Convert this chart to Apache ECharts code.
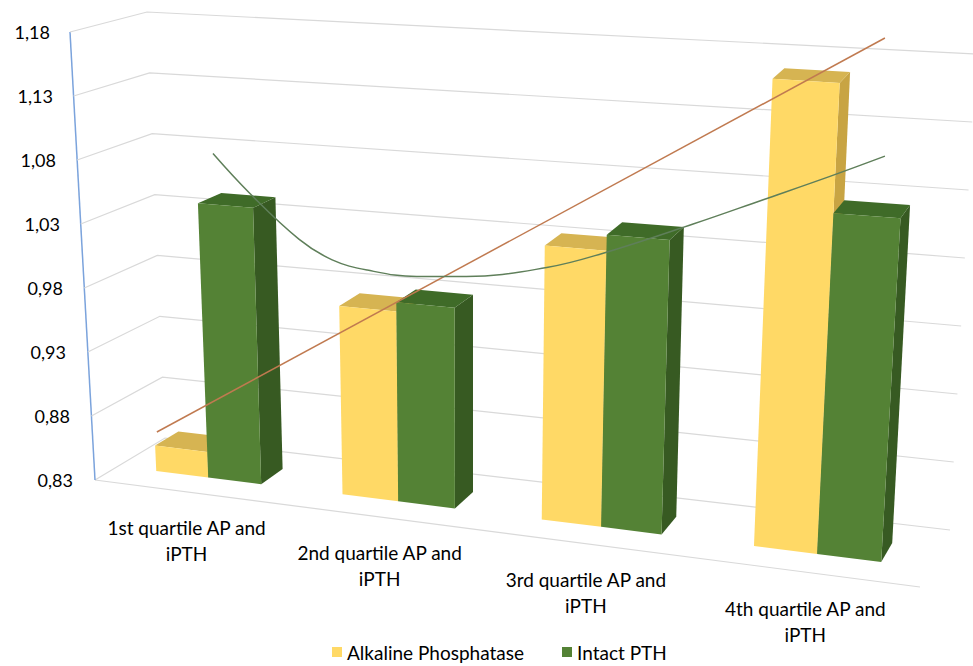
<!DOCTYPE html>
<html><head><meta charset="utf-8">
<script src="https://cdn.jsdelivr.net/npm/echarts@6/dist/echarts.min.js"></script>
<style>html,body{margin:0;padding:0;background:#fff}#chart{width:973px;height:666px}</style>
</head><body><div id="chart"></div>
<script>
// ---------- data ----------
const categories = ['1st quartile AP and\niPTH', '2nd quartile AP and\niPTH', '3rd quartile AP and\niPTH', '4th quartile AP and\niPTH'];
const seriesNames = ['Alkaline Phosphatase', 'Intact PTH'];
const alkalinePhosphatase = [0.85, 0.975, 1.035, 1.17];
const intactPTH = [1.045, 0.982, 1.047, 1.076];
const yTicks = [0.83, 0.88, 0.93, 0.98, 1.03, 1.08, 1.13, 1.18];
// trendlines (x in category-index units)
const apTrendX = [-0.2, 3.33];
const apTrendY = [0.8675, 1.1753];
const pthTrendX = [0.072, 0.25, 0.49, 0.65, 0.82, 1.06, 1.30, 1.69, 1.96, 2.40, 2.74, 3.06, 3.33];
const pthTrendY = [1.085, 1.054, 1.018, 1.002, 0.994, 0.989, 0.989, 0.996, 1.007, 1.030, 1.049, 1.067, 1.083];

// ---------- layout / style ----------
const GRID = { left: 95, top: 32, width: 825, height: 448 };
// screen corners of the 3D box, keyed u(0/1) t(0/1) d(0/1)
const BOX = {
  u0t0d0: [95, 480], u0t1d0: [70, 32], u0t0d1: [165, 438], u0t1d1: [147, 12],
  u1t0d0: [920, 587], u1t1d0: [953, 87], u1t0d1: [950, 530], u1t1d1: [976, 54]
};
const WARP = 0.128;
const DEPTH = [0.33, 0.67];
const BAR_FRAC = 0.286;
const FONT = 'Lato, "Liberation Sans", sans-serif';
const COLORS = [
  { front: '#FFD966', top: '#D6B452', side: '#C8A443' },
  { front: '#548235', top: '#3F6B28', side: '#375A22' }
];

function lerp(a, b, k) { return [a[0] + (b[0] - a[0]) * k, a[1] + (b[1] - a[1]) * k]; }
function proj(u, t, d) {
  const w = (1 - WARP) * u + WARP * u * u;
  const c = BOX;
  const f0 = lerp(lerp(c.u0t0d0, c.u1t0d0, w), lerp(c.u0t1d0, c.u1t1d0, w), t);
  const f1 = lerp(lerp(c.u0t0d1, c.u1t0d1, w), lerp(c.u0t1d1, c.u1t1d1, w), t);
  return lerp(f0, f1, d);
}

function barRenderer(s) {
  const col = COLORS[s];
  return function (params, api) {
    const cs = params.coordSys;
    const i = api.value(0), v = api.value(1);
    const p = api.coord([i, v]);
    const band = api.size([1, 0])[0];
    const w = band * BAR_FRAC;
    const x0 = s === 0 ? p[0] - w : p[0];
    const x1 = x0 + w;
    const u0 = (x0 - cs.x) / cs.width, u1 = (x1 - cs.x) / cs.width;
    const t = (cs.y + cs.height - p[1]) / cs.height;
    const d0 = DEPTH[0], d1 = DEPTH[1];
    return {
      type: 'group', children: [
        { type: 'polygon', shape: { points: [proj(u1, 0, d0), proj(u1, 0, d1), proj(u1, t, d1), proj(u1, t, d0)] }, style: { fill: col.side } },
        { type: 'polygon', shape: { points: [proj(u0, t, d0), proj(u1, t, d0), proj(u1, t, d1), proj(u0, t, d1)] }, style: { fill: col.top } },
        { type: 'polygon', shape: { points: [proj(u0, 0, d0), proj(u1, 0, d0), proj(u1, t, d0), proj(u0, t, d0)] }, style: { fill: col.front } }
      ]
    };
  };
}

function wallRenderer(params, api) {
  const cs = params.coordSys;
  const p = api.coord([0, api.value(1)]);
  const t = (cs.y + cs.height - p[1]) / cs.height;
  const children = [
    { type: 'polyline', shape: { points: [proj(0, t, 0), proj(0, t, 1), proj(1, t, 1)] }, style: { stroke: '#D9D9D9', lineWidth: 1.2, fill: null } }
  ];
  if (params.dataIndex === 0) {
    children.push({ type: 'line', shape: { x1: proj(0, 0, 0)[0], y1: proj(0, 0, 0)[1], x2: proj(1, 0, 0)[0], y2: proj(1, 0, 0)[1] }, style: { stroke: '#D9D9D9', lineWidth: 1.2 } });
    children.push({ type: 'line', shape: { x1: proj(0, 0, 0)[0], y1: proj(0, 0, 0)[1], x2: proj(0, 1, 0)[0], y2: proj(0, 1, 0)[1] }, style: { stroke: '#7BA3DC', lineWidth: 1.5 } });
  }
  return { type: 'group', children };
}

function labelRenderer(params, api) {
  const cs = params.coordSys;
  const p = api.coord([api.value(0), api.value(1)]);
  const u = (p[0] - cs.x) / cs.width;
  const q = proj(u, 0, 0);
  return {
    type: 'text',
    style: { text: categories[params.dataIndex], x: q[0], y: q[1] + 23, align: 'center', verticalAlign: 'top', font: '19px ' + FONT, fill: '#000', lineHeight: 26 }
  };
}

const chart = echarts.init(document.getElementById('chart'), null, { renderer: 'svg', width: 973, height: 666 });
chart.setOption({
  animation: false,
  backgroundColor: '#fff',
  grid: [
    { left: GRID.left, top: GRID.top, width: GRID.width, height: GRID.height },
    { left: GRID.left, top: GRID.top, width: GRID.width, height: GRID.height }
  ],
  xAxis: [
    { type: 'category', gridIndex: 0, data: categories, axisLine: { show: false }, axisTick: { show: false }, axisLabel: { show: false }, splitLine: { show: false } },
    { type: 'value', gridIndex: 1, min: -0.5, max: 3.5, show: false }
  ],
  yAxis: [
    {
      type: 'value', gridIndex: 0, min: yTicks[0], max: yTicks[yTicks.length - 1], interval: 0.05,
      axisLine: { show: false }, axisTick: { show: false }, splitLine: { show: false },
      axisLabel: {
        margin: 22, color: '#000', fontFamily: FONT, fontSize: 18,
        formatter: (v, idx) => '{p' + idx + '|' + v.toFixed(2).replace('.', ',') + '}',
        rich: Object.fromEntries(yTicks.map((_, k) => ['p' + k, { padding: [0, Math.round(k * 3.3), 0, 0], fontSize: 18, fontFamily: FONT, color: '#000' }]))
      }
    },
    { type: 'value', gridIndex: 1, min: yTicks[0], max: yTicks[yTicks.length - 1], show: false }
  ],
  legend: {
    data: seriesNames, left: 332, top: 640, padding: 0, icon: 'rect', itemWidth: 10, itemHeight: 10, itemGap: 38,
    textStyle: { fontFamily: FONT, fontSize: 19, color: '#000', lineHeight: 24 }
  },
  series: [
    { type: 'custom', name: 'walls', xAxisIndex: 0, yAxisIndex: 0, z: 1, silent: true, renderItem: wallRenderer, data: yTicks.map(v => [0, v]) },
    { type: 'custom', name: seriesNames[0], xAxisIndex: 0, yAxisIndex: 0, z: 2, itemStyle: { color: COLORS[0].front }, renderItem: barRenderer(0), data: alkalinePhosphatase.map((v, i) => [i, v]) },
    { type: 'custom', name: seriesNames[1], xAxisIndex: 0, yAxisIndex: 0, z: 3, itemStyle: { color: COLORS[1].front }, renderItem: barRenderer(1), data: intactPTH.map((v, i) => [i, v]) },
    { type: 'custom', name: 'labels', xAxisIndex: 0, yAxisIndex: 0, z: 3, silent: true, renderItem: labelRenderer, data: categories.map((c, i) => [i, yTicks[0]]) },
    { type: 'line', name: 'AP trend', xAxisIndex: 1, yAxisIndex: 1, z: 6, symbol: 'none', silent: true, lineStyle: { color: '#C07A50', width: 1.5 }, data: apTrendX.map((x, k) => [x, apTrendY[k]]) },
    { type: 'line', name: 'PTH trend', xAxisIndex: 1, yAxisIndex: 1, z: 6, symbol: 'none', smooth: 0.4, silent: true, lineStyle: { color: '#5F7F5A', width: 1.5 }, data: pthTrendX.map((x, k) => [x, pthTrendY[k]]) }
  ]
});
</script>
</body></html>
